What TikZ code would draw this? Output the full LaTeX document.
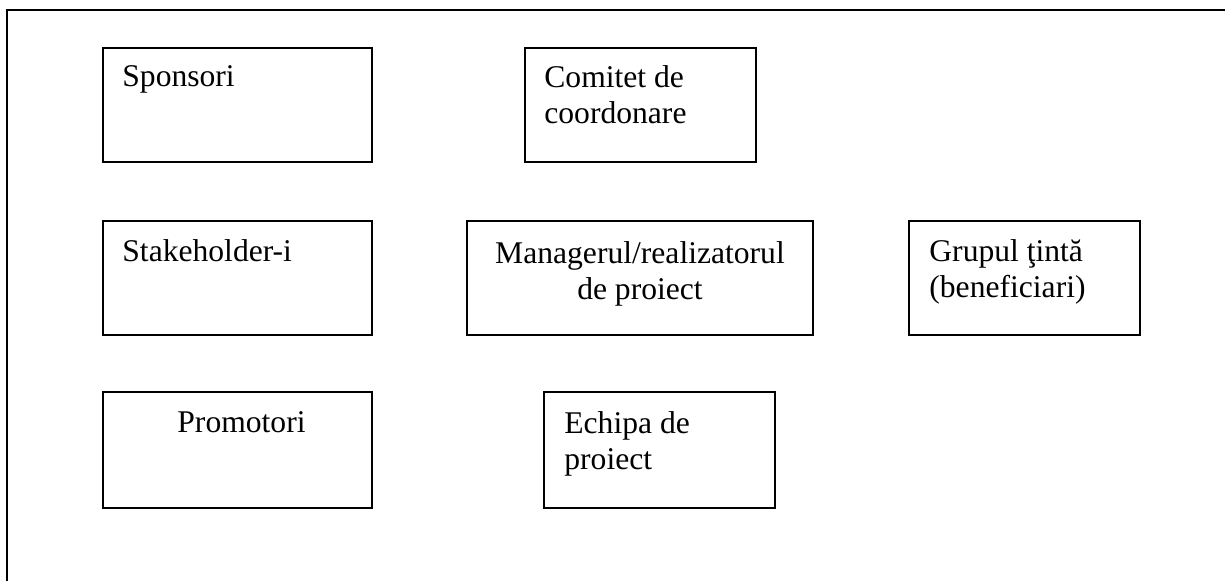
\documentclass[tikz,border=0pt]{standalone}
\usepackage{fontspec}
\setmainfont{Liberation Serif}
\begin{document}
\begin{tikzpicture}[x=0.5pt,y=-0.5pt,
        caseta/.style={draw, line width=1pt, rectangle, inner sep=0pt},
        eticheta/.style={inner sep=0pt, align=left, font=\fontsize{15.8}{18}\selectfont}]
        \useasboundingbox (0,0) rectangle (1225,581);
        \clip (0,0) rectangle (1225,581);
        \draw[line width=1pt] (7,10) rectangle (1240,600);
        % randul de sus
        \node[caseta, minimum width=134.5pt, minimum height=57pt] (spons) at (237.5,105) {};
        \node[caseta, minimum width=115.5pt, minimum height=57pt] (comitet) at (640.5,105) {};
        \node[eticheta, anchor=north west] (spons-t) at ([shift={(20,18)}]spons.north west) {Sponsori};
        \node[eticheta, anchor=north west] (comitet-t) at ([shift={(20,18)}]comitet.north west) {Comitet de\\coordonare};
        % randul din mijloc
        \node[caseta, minimum width=134.5pt, minimum height=57pt] (stake) at (237.5,278) {};
        \node[caseta, minimum width=173pt, minimum height=57pt] (manager) at (640,278) {};
        \node[caseta, minimum width=115.5pt, minimum height=57pt] (grup) at (1024.5,278) {};
        \node[eticheta, anchor=north west] (stake-t) at ([shift={(20,19)}]stake.north west) {Stakeholder-i};
        \node[eticheta, anchor=north, align=center] (manager-t) at ([shift={(0,21)}]manager.north) {Managerul/realizatorul\\de proiect};
        \node[eticheta, anchor=north west] (grup-t) at ([shift={(21,19)}]grup.north west) {Grupul ţintă\\(beneficiari)};
        % randul de jos
        \node[caseta, minimum width=134.5pt, minimum height=58pt] (promot) at (237.5,450) {};
        \node[caseta, minimum width=115.5pt, minimum height=58pt] (echipa) at (659.5,450) {};
        \node[eticheta, anchor=north] (promot-t) at ([shift={(4,20)}]promot.north) {Promotori};
        \node[eticheta, anchor=north west] (echipa-t) at ([shift={(21,20)}]echipa.north west) {Echipa de\\proiect};
\end{tikzpicture}
\end{document}
